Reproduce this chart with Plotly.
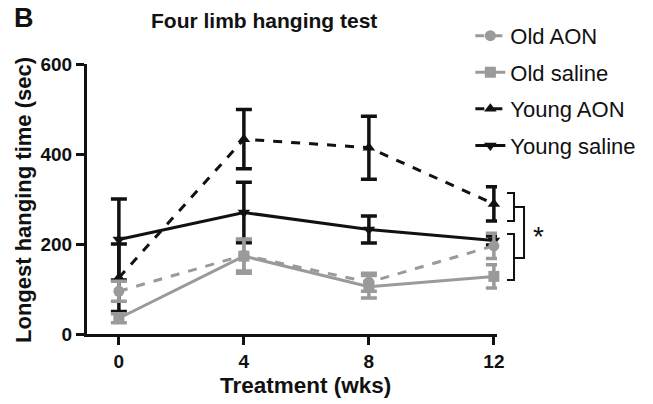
import plotly.graph_objects as go

weeks = [0, 4, 8, 12]

old_aon = [95, 175, 115, 196]
old_aon_err = [22, 35, 20, 28]
old_saline = [35, 173, 105, 128]
old_saline_err = [10, 38, 25, 26]
young_aon = [125, 433, 414, 289]
young_aon_err = [75, 66, 70, 38]
young_saline = [210, 270, 232, 208]
young_saline_err = [90, 67, 30, 10]

x_ticks = [0, 4, 8, 12]
y_ticks = [0, 200, 400, 600]

BLACK = "#111111"
GRAY = "#9a9a9a"
FONT = "Arial, Liberation Sans, Helvetica, sans-serif"

series = [
    # name, y, err, color, dash, symbol, rank
    ("Young AON", young_aon, young_aon_err, BLACK, "dash", "triangle-up", 3),
    ("Young saline", young_saline, young_saline_err, BLACK, "solid", "triangle-down", 4),
    ("Old AON", old_aon, old_aon_err, GRAY, "dash", "circle", 1),
    ("Old saline", old_saline, old_saline_err, GRAY, "solid", "square", 2),
]

fig = go.Figure()
for name, y, err, color, dash, symbol, rank in series:
    fig.add_trace(go.Scatter(
        x=weeks, y=y, name=name, mode="lines+markers",
        line=dict(color=color, width=3, dash=dash),
        marker=dict(color=color, size=11, symbol=symbol),
        error_y=dict(type="data", array=err, visible=True, color=color,
                     thickness=3.5, width=8),
        legendgroup=name, legendrank=rank, cliponaxis=False,
    ))

fig.update_layout(
    width=653, height=404,
    margin=dict(l=87, r=156, t=64, b=70),
    paper_bgcolor="white", plot_bgcolor="white",
    font=dict(family=FONT, color=BLACK),
    showlegend=True,
    legend=dict(
        x=0.935, xanchor="left", y=1.182, yanchor="top",
        font=dict(size=22, family=FONT, color=BLACK),
        tracegroupgap=5, traceorder="grouped",
        bgcolor="rgba(0,0,0,0)", itemwidth=30,
    ),
    xaxis=dict(
        range=[-1.02, 12.1], tickvals=x_ticks, ticktext=[str(v) for v in x_ticks],
        showline=True, linecolor=BLACK, linewidth=3,
        ticks="outside", ticklen=8, tickwidth=3, tickcolor=BLACK,
        showgrid=False, zeroline=False,
        tickfont=dict(size=19, family=FONT, color=BLACK, weight="bold"),
    ),
    yaxis=dict(
        range=[0, 600], tickvals=y_ticks, ticktext=[str(v) for v in y_ticks],
        showline=True, linecolor=BLACK, linewidth=3,
        ticks="outside", ticklen=8, tickwidth=3, tickcolor=BLACK,
        showgrid=False, zeroline=False,
        tickfont=dict(size=19, family=FONT, color=BLACK, weight="bold"),
    ),
)

annotations = [
    dict(text="<b>B</b>", x=12, y=18, font=dict(size=27)),
    dict(text="<b>Four limb hanging test</b>", x=264, y=20, font=dict(size=21)),
    dict(text="<b>Treatment (wks)</b>", x=305, y=385, font=dict(size=22.5)),
    dict(text="<b>Longest hanging time (sec)</b>", x=23, y=200, font=dict(size=22), textangle=-90),
    dict(text="*", x=538, y=236, font=dict(size=28)),
]
L, T, W, H = 87, 64, 410, 270
for a in annotations:
    xa = "left" if a["text"] == "<b>B</b>" else "center"
    fig.add_annotation(
        text=a["text"], xref="paper", yref="paper",
        x=(a["x"] - L) / W, y=(T + H - a["y"]) / H,
        xanchor=xa, yanchor="middle", showarrow=False,
        textangle=a.get("textangle", 0),
        font=dict(family=FONT, color=BLACK, size=a["font"]["size"]),
    )

def px(xp, yp):
    return (xp - L) / W, (T + H - yp) / H

def bracket(x1, x2, ytop, ybot):
    pts = [px(x1, ytop), px(x2, ytop), px(x2, ybot), px(x1, ybot)]
    path = "M " + " L ".join(f"{a:.4f},{b:.4f}" for a, b in pts)
    fig.add_shape(type="path", path=path, xref="paper", yref="paper",
                  line=dict(color=BLACK, width=2))

bracket(507, 514, 193, 221)
bracket(507, 514, 234, 280)
bracket(514, 524, 207, 258)

fig.write_html("out.html", config={"displayModeBar": False},
               post_script="document.body.style.margin='0';document.body.style.overflow='hidden';")
